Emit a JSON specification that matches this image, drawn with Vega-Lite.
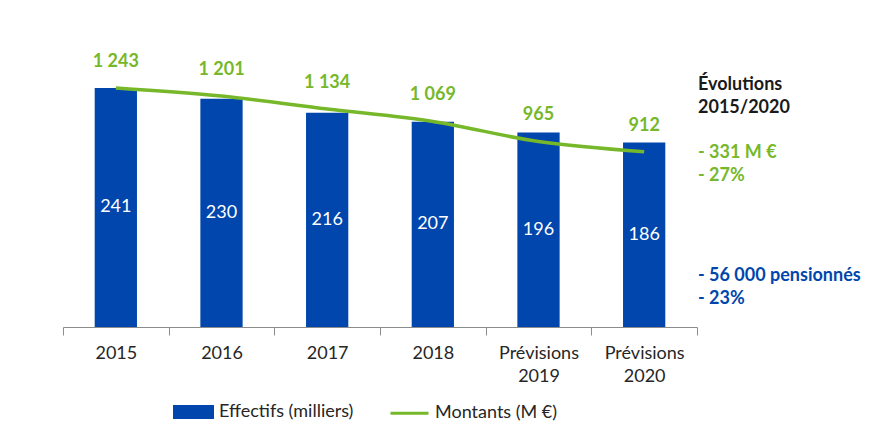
{
  "$schema": "https://vega.github.io/schema/vega-lite/v6.json",
  "padding": {"left": 62, "top": 53, "right": 0, "bottom": 0},
  "background": "white",
  "spacing": 1,
  "bounds": "flush",
  "config": {
    "view": {"stroke": null},
    "font": "Lato",
    "locale": {"number": {"decimal": ",", "thousands": " ", "grouping": [3], "currency": ["", " €"]}}
  },
  "resolve": {"scale": {"color": "independent", "x": "independent", "y": "independent"}, "legend": {"color": "independent"}},
  "hconcat": [
    {
      "width": 634,
      "height": 248,
      "data": {"values": [
        {"Annee": "2015", "Effectifs": 241, "Montants": 1243},
        {"Annee": "2016", "Effectifs": 230, "Montants": 1201},
        {"Annee": "2017", "Effectifs": 216, "Montants": 1134},
        {"Annee": "2018", "Effectifs": 207, "Montants": 1069},
        {"Annee": "Prévisions 2019", "Effectifs": 196, "Montants": 965},
        {"Annee": "Prévisions 2020", "Effectifs": 186, "Montants": 912}
      ]},
      "encoding": {
        "x": {
          "field": "Annee", "type": "nominal", "sort": null, "title": null,
          "scale": {"paddingInner": 0, "paddingOuter": 0},
          "axis": {
            "labelAngle": 0, "tickBand": "extent", "tickSize": 8, "tickColor": "#8c8c8c",
            "domainColor": "#8c8c8c", "labelFont": "Lato", "labelFontSize": 18,
            "labelColor": "#262626", "labelPadding": 9, "labelLineHeight": 23,
            "labelExpr": "split(datum.label, ' ')", "grid": false
          }
        }
      },
      "layer": [
        {
          "layer": [
            {
              "mark": {"type": "bar", "width": {"band": 0.4}},
              "encoding": {
                "y": {"field": "Effectifs", "type": "quantitative", "scale": {"domain": [0, 250], "nice": false}, "axis": null},
                "color": {
                  "datum": "Effectifs (milliers)",
                  "scale": {"domain": ["Effectifs (milliers)", "Montants (M €)"], "range": ["#0046AD", "#76B82A"]},
                  "legend": {
                    "title": null, "orient": "none", "legendX": 110, "legendY": 312,
                    "direction": "horizontal", "padding": 0, "symbolSize": 1444,
                    "labelFont": "Lato", "labelFontSize": 18, "labelColor": "#262626",
                    "labelOffset": 5, "columnPadding": 30, "labelLimit": 300,
                    "encode": {"symbols": {"update": {
                      "shape": {"signal": "datum.label == 'Effectifs (milliers)' ? 'M-1,-0.29H1V0.29H-1Z' : 'M-1,0H1'"},
                      "fill": {"signal": "datum.label == 'Effectifs (milliers)' ? '#0046AD' : 'transparent'"},
                      "stroke": {"signal": "datum.label == 'Effectifs (milliers)' ? 'transparent' : '#76B82A'"},
                      "strokeWidth": {"value": 3},
                      "opacity": {"value": 1}
                    }}}
                  }
                }
              }
            },
            {
              "mark": {"type": "text", "color": "white", "font": "Lato", "fontSize": 18, "baseline": "middle"},
              "encoding": {
                "y": {"field": "Effectifs", "type": "quantitative", "stack": "zero", "bandPosition": 0.5, "scale": {"domain": [0, 250], "nice": false}, "axis": null},
                "text": {"field": "Effectifs", "type": "quantitative"}
              }
            }
          ]
        },
        {
          "layer": [
            {
              "mark": {"type": "line", "interpolate": "monotone", "strokeWidth": 3.5},
              "encoding": {
                "y": {"field": "Montants", "type": "quantitative", "scale": {"domain": [0, 1290], "nice": false}, "axis": null},
                "color": {"datum": "Montants (M €)"}
              }
            },
            {
              "mark": {"type": "text", "color": "#76B82A", "font": "Lato", "fontSize": 18, "fontWeight": "bold", "baseline": "middle", "dy": -26},
              "encoding": {
                "y": {"field": "Montants", "type": "quantitative", "scale": {"domain": [0, 1290], "nice": false}, "axis": null},
                "text": {"field": "Montants", "type": "quantitative", "format": ",d"}
              }
            }
          ]
        }
      ],
      "resolve": {"scale": {"y": "independent"}}
    },
    {
      "width": 172,
      "height": 248,
      "data": {"values": [
        {"texte": "Évolutions", "groupe": "Titre", "ligne": 1},
        {"texte": "2015/2020", "groupe": "Titre", "ligne": 2},
        {"texte": "- 331 M €", "groupe": "Montants", "ligne": 3.9},
        {"texte": "- 27%", "groupe": "Montants", "ligne": 4.9},
        {"texte": "- 56 000 pensionnés", "groupe": "Effectifs", "ligne": 9.2},
        {"texte": "- 23%", "groupe": "Effectifs", "ligne": 10.2}
      ]},
      "mark": {"type": "text", "align": "left", "baseline": "middle", "font": "Lato", "fontSize": 18, "fontWeight": "bold"},
      "encoding": {
        "x": {"datum": 0, "type": "quantitative", "scale": {"domain": [0, 1]}, "axis": null},
        "y": {"field": "ligne", "type": "quantitative", "scale": {"domain": [0.742, 11.386], "reverse": true, "nice": false, "zero": false}, "axis": null},
        "text": {"field": "texte"},
        "color": {"field": "groupe", "type": "nominal", "scale": {"domain": ["Titre", "Montants", "Effectifs"], "range": ["#1a1a1a", "#76B82A", "#0046AD"]}, "legend": null}
      }
    }
  ]
}
